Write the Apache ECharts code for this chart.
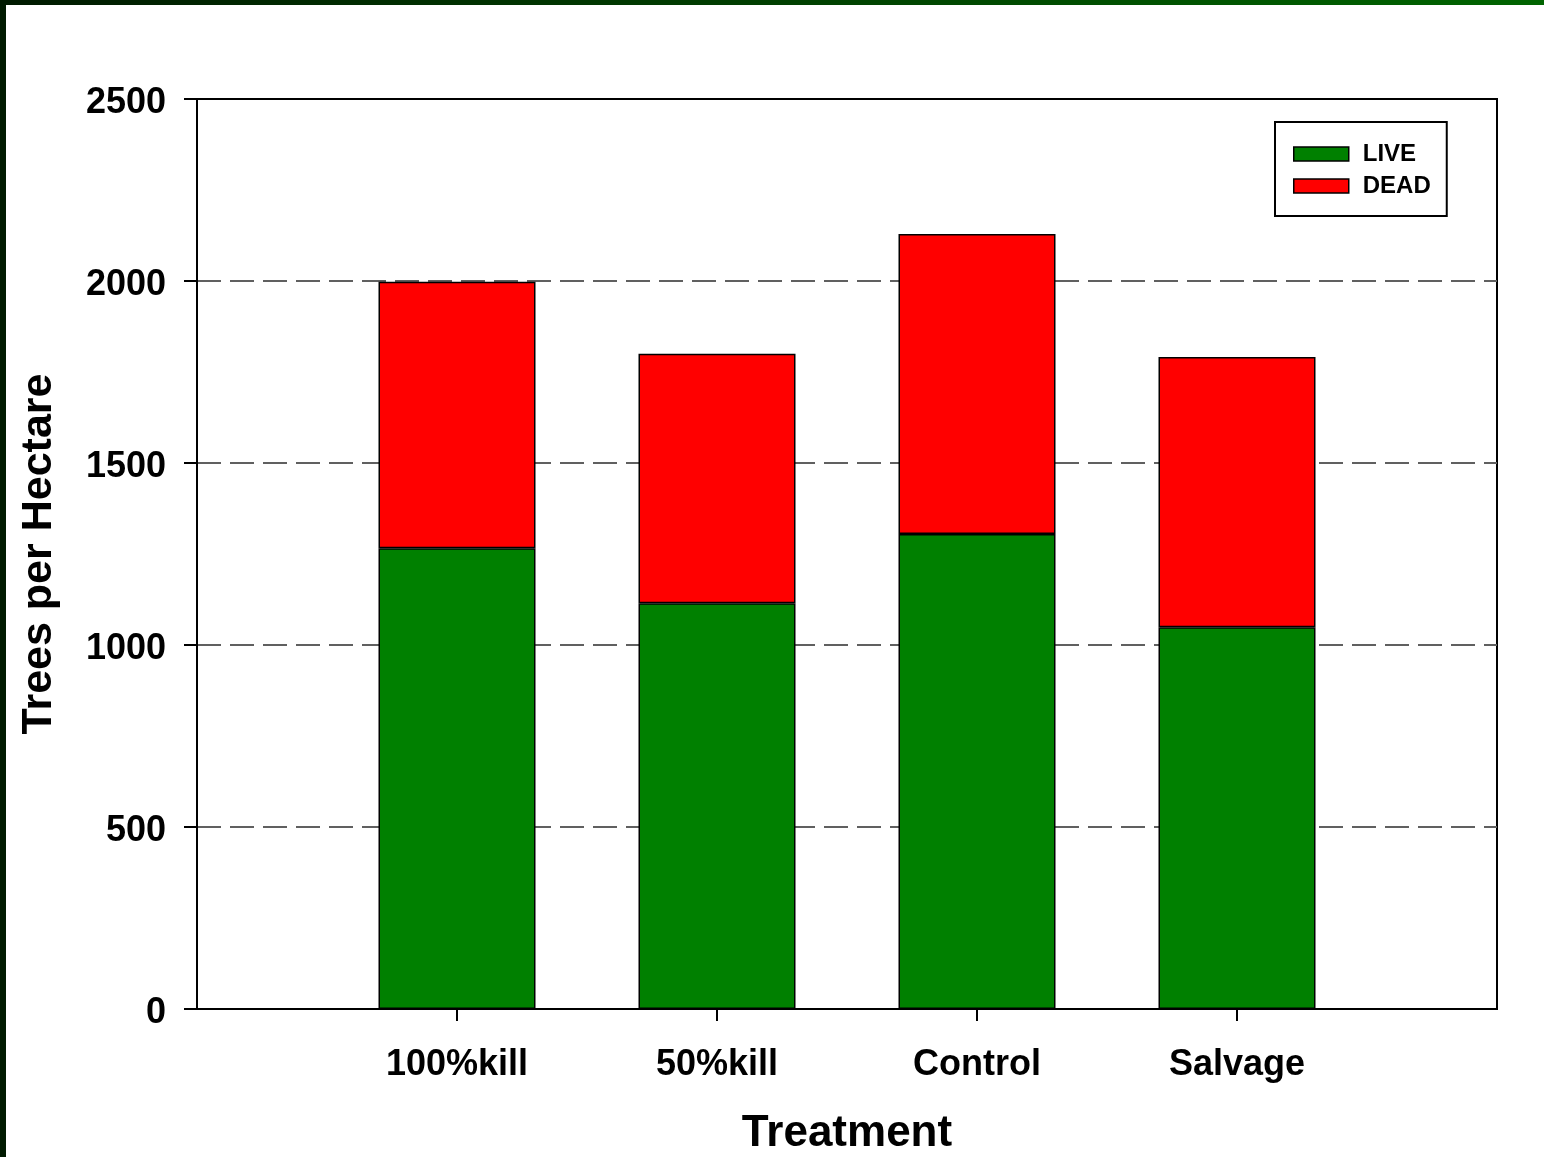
<!DOCTYPE html>
<html>
<head>
<meta charset="utf-8">
<script src="https://cdn.jsdelivr.net/npm/echarts@6/dist/echarts.min.js"></script>
<style>
  html, body { margin: 0; padding: 0; background: #fff; }
  #chart { position: absolute; left: 0; top: 0; width: 1544px; height: 1157px; }
  #topband { position: absolute; left: 0; top: 0; width: 1544px; height: 5px;
    background: linear-gradient(to right, #001a00, #006400); z-index: 5; }
  #leftband { position: absolute; left: 0; top: 0; width: 6px; height: 1157px;
    background: #001a00; z-index: 5; }
</style>
</head>
<body>
<div id="chart"></div>
<div id="topband"></div>
<div id="leftband"></div>
<script>
const categories = ['100%kill', '50%kill', 'Control', 'Salvage'];
const liveValues = [1266, 1115, 1305, 1049];
const deadValues = [732, 685, 824, 742];
const yTicks = [0, 500, 1000, 1500, 2000, 2500];

// pad with empty slots on both sides (the axis spans 5 intervals, bars sit at 1..4)
const xCats = [''].concat(categories, ['']);
const pad = arr => [null].concat(arr, [null]);

const chart = echarts.init(document.getElementById('chart'), null, { renderer: 'canvas' });
const font = 'Liberation Sans, Arial, sans-serif';

chart.setOption({
  backgroundColor: '#ffffff',
  animation: false,
  grid: {
    left: 197, top: 99, right: 47, bottom: 148,
    containLabel: false, outerBoundsMode: 'none',
    show: true, borderColor: '#000', borderWidth: 2, backgroundColor: 'transparent'
  },
  legend: {
    orient: 'vertical',
    left: 1275, top: 122,
    data: ['LIVE', 'DEAD'],
    backgroundColor: '#fff',
    borderColor: '#000', borderWidth: 2, borderRadius: 0,
    padding: [20, 16, 18, 18],
    itemWidth: 55, itemHeight: 14, itemGap: 8,
    icon: 'rect',
    itemStyle: { borderColor: '#000', borderWidth: 1.5 },
    textStyle: { fontFamily: font, fontWeight: 'bold', fontSize: 24, color: '#000',
      lineHeight: 20, padding: [0, 0, 0, 9] }
  },
  xAxis: {
    type: 'category',
    data: xCats,
    boundaryGap: false,
    name: 'Treatment',
    nameLocation: 'middle',
    nameGap: 103,
    nameTextStyle: { fontFamily: font, fontWeight: 'bold', fontSize: 44, color: '#000' },
    axisLine: { lineStyle: { color: '#000', width: 2 } },
    axisTick: {
      show: true, length: 12, inside: false,
      interval: (i) => i > 0 && i < xCats.length - 1,
      lineStyle: { color: '#000', width: 2 }
    },
    axisLabel: {
      interval: 0, margin: 38,
      fontFamily: font, fontWeight: 'bold', fontSize: 36, color: '#000'
    },
    splitLine: { show: false }
  },
  yAxis: {
    type: 'value',
    min: yTicks[0], max: yTicks[yTicks.length - 1], interval: yTicks[1] - yTicks[0],
    name: 'Trees per Hectare',
    nameLocation: 'middle',
    nameGap: 136,
    nameTextStyle: { fontFamily: font, fontWeight: 'bold', fontSize: 43, color: '#000' },
    axisLine: { show: true, lineStyle: { color: '#000', width: 2 } },
    axisTick: { show: true, length: 13, lineStyle: { color: '#000', width: 2 } },
    axisLabel: {
      margin: 31, color: '#000',
      formatter: (v) => '{t|' + v + '}',
      rich: {
        t: { fontFamily: font, fontWeight: 'bold', fontSize: 36, color: '#000',
             padding: [8, 0, 0, 0] }
      }
    },
    splitLine: {
      show: true, showMaxLine: false, showMinLine: false,
      lineStyle: { color: '#606060', width: 2, type: [24, 9] }
    }
  },
  series: [
    {
      name: 'LIVE', type: 'bar', stack: 'total', barWidth: 157,
      data: pad(liveValues),
      itemStyle: { color: '#008000', borderColor: '#000', borderWidth: 1.5 }
    },
    {
      name: 'DEAD', type: 'bar', stack: 'total', barWidth: 157,
      data: pad(deadValues),
      itemStyle: { color: '#ff0000', borderColor: '#000', borderWidth: 1.5 }
    }
  ]
});
</script>
</body>
</html>
